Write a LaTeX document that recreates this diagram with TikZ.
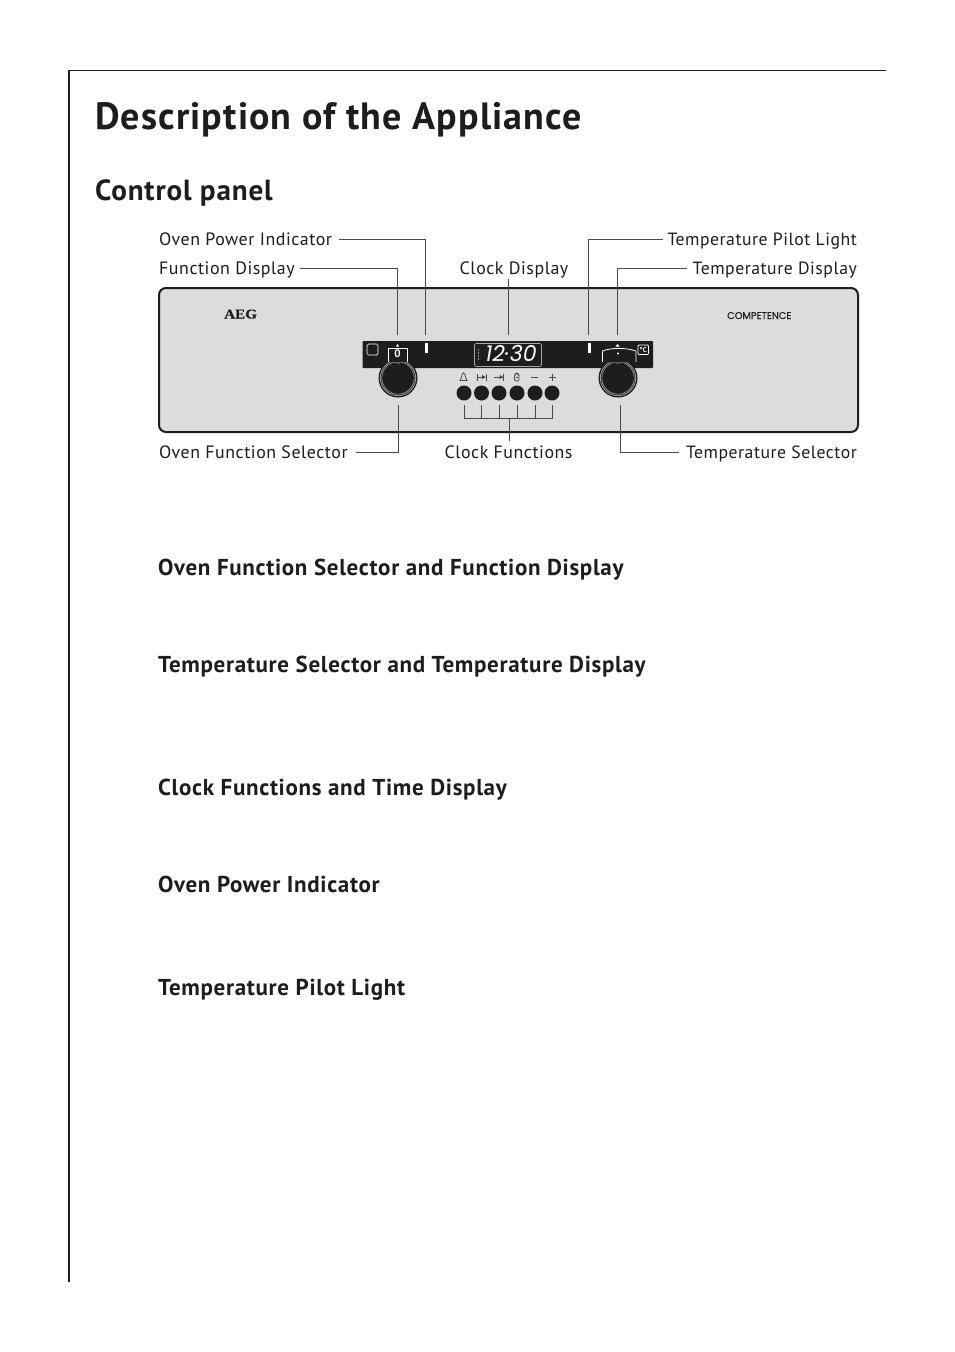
\documentclass[tikz,border=0pt]{standalone}
\usepackage{fontspec}
\setmainfont{PT Sans}[LetterSpace=3]
\newfontfamily\logofont{Liberation Serif}[FakeStretch=1.12,FakeBold=0.5]
\newfontfamily\compfont{Poppins}[FakeBold=0.4]
\newfontfamily\digitfont{Poppins}
\definecolor{panelgrey}{HTML}{DCDCDC}
\definecolor{inkblack}{HTML}{1E1C1C}
\definecolor{linegrey}{HTML}{4A4A4A}
\definecolor{ringgrey}{HTML}{A8A8A8}
\tikzset{
 x=1pt,y=-1pt,
 titletext/.style={anchor=base west,inner sep=0,font=\bfseries\fontsize{38}{38}\selectfont,text=inkblack},
 sectiontext/.style={anchor=base west,inner sep=0,font=\bfseries\fontsize{29.1}{29.1}\selectfont,text=inkblack},
 headtext/.style={anchor=base west,inner sep=0,font=\bfseries\fontsize{23}{23}\selectfont,text=inkblack},
 calloutl/.style={anchor=base west,inner sep=0,font=\fontsize{17.9}{17.9}\selectfont,text=inkblack},
 calloutr/.style={anchor=base east,inner sep=0,font=\fontsize{17.7}{17.7}\selectfont,text=inkblack},
 calloutc/.style={anchor=base,inner sep=0,font=\fontsize{17.9}{17.9}\selectfont,text=inkblack},
 leader/.style={draw=linegrey,line width=0.9pt},
 button/.style={circle,fill=inkblack,minimum size=15pt,inner sep=0},
 knob/.style={circle,fill=inkblack,minimum size=39pt,inner sep=0},
 iconline/.style={draw=linegrey,line width=0.8pt},
 panelwhite/.style={draw=white,line width=0.8pt},
}
\begin{document}
\begin{tikzpicture}
\useasboundingbox (0,0) rectangle (954,1352);
\fill[white] (0,0) rectangle (954,1352);
% page rules
\coordinate (ruleTop) at (69,70);
\coordinate (ruleRight) at (886,70);
\coordinate (ruleBottom) at (69,1282);
\draw[inkblack,line width=1pt] (ruleTop) -- (ruleRight);
\draw[inkblack,line width=2pt] (ruleTop) -- (ruleBottom);
% headings
\node[titletext] (title) at (95,129) {Description of the Appliance};
\node[sectiontext] (section) at (95,200.5) {Control panel};
\node[headtext] (h1) at (158,575) {Oven Function Selector and Function Display};
\node[headtext] (h2) at (158,672) {Temperature Selector and Temperature Display};
\node[headtext] (h3) at (158,795) {Clock Functions and Time Display};
\node[headtext] (h4) at (158,892) {Oven Power Indicator};
\node[headtext] (h5) at (158,995) {Temperature Pilot Light};
% panel
\draw[fill=panelgrey,draw=inkblack,line width=2pt,rounded corners=7pt] (159,288) rectangle (858,432);
\node[anchor=base west,inner sep=0,font=\logofont\bfseries\fontsize{13.5}{13.5}\selectfont,text=inkblack] (aeg) at (224,318.5) {AEG};
\node[anchor=base west,inner sep=0,font=\compfont\fontsize{9.8}{9.8}\selectfont,text=inkblack] (comp) at (727,319) {COMPETENCE};
% strip
\fill[inkblack,rounded corners=1pt] (362.5,341) rectangle (653,368);
\draw[white,line width=0.7pt,rounded corners=1.5pt] (367,344) rectangle (378,355);
% knobs
\node[knob] (knobL) at (398,378) {};
\node[knob] (knobR) at (618,378) {};
\foreach \k in {knobL,knobR}{
 \draw[ringgrey,line width=0.7pt] (\k) circle (17.7pt);
 \draw[ringgrey,line width=0.6pt] (\k) circle (16.2pt);
 \draw[ringgrey,line width=0.5pt] ([yshift=12.5pt]\k) -- ++(-1.8,-2.5) -- ++(3.6,0) -- cycle;
}
% left window
\draw[panelwhite,fill=inkblack] (388.5,362) -- (388.5,348) -- (407.5,348) -- (407.5,362);
\node[inner sep=0,text=white,font=\bfseries\fontsize{11}{11}\selectfont] (zero) at (397.5,353.7) {0};
\fill[white] (396,346.5) -- (399,346.5) -- (397.5,344) -- cycle;
% right window
\draw[panelwhite,fill=inkblack] (602.5,362) -- (602.5,351) .. controls (612,347.5) and (625,347.5) .. (636,351) -- (636,362);
\fill[white] (617.5,344) -- (619.5,346.5) -- (615.5,346.5) -- cycle;
\fill[white] (618,353.5) circle (1.1pt);
% degree box
\draw[white,fill=inkblack,line width=0.8pt,rounded corners=1pt] (638,345) rectangle (648.5,354.5);
\node[inner sep=0,text=white,font=\bfseries\fontsize{7}{7}\selectfont] (degc) at (643.3,349.8) {°C};
% indicators
\fill[white] (425,343) rectangle (428,353);
\fill[white] (588,343) rectangle (591,353);
% clock display
\draw[draw=ringgrey,line width=0.6pt,rounded corners=1.5pt] (474.5,343.5) rectangle (541.5,366.5);
\node[inner sep=0,text=white] (clockdigits) at (511,353.8) {\digitfont\itshape\fontsize{22}{22}\selectfont 12·30};
\fill[white] (478.5,350) circle (0.7pt) (478.5,353) circle (0.7pt) (478.5,356) circle (0.7pt) (478.5,359) circle (0.7pt);
% buttons
\foreach \n/\cx in {b1/464,b2/481.5,b3/499,b4/517,b5/535,b6/552}{
 \node[button] (\n) at (\cx,393) {};
 \coordinate (\n d) at (\cx,405);
 \coordinate (\n j) at (\cx,418.5);
}
% icons
\draw[iconline,fill=panelgrey] (460,380.5) .. controls (461.5,379.5) and (461.5,373) .. (463.5,373) .. controls (465.5,373) and (465.5,379.5) .. (467,380.5) -- cycle;
\draw[iconline] (477,373.5) -- (477,380.5) (486,373.5) -- (486,380.5) (477,377) -- (485,377);
\fill[linegrey] (485.5,377) -- (482,374.8) -- (482,379.2) -- cycle;
\draw[iconline] (494,377) -- (503,377) (503.5,373.5) -- (503.5,380.5);
\fill[linegrey] (503,377) -- (499.5,374.8) -- (499.5,379.2) -- cycle;
\draw[iconline,rounded corners=1.3pt] (514.5,381) -- (514.5,375.5) -- (516,373.5) -- (517.5,373.5) -- (519,375.5) -- (519,381) -- cycle;
\draw[iconline] (515.5,377.5) -- (518,377.5);
\draw[iconline] (531,377) -- (538,377);
\draw[iconline] (548.5,377) -- (555.5,377) (552,373.5) -- (552,380.5);
% callouts
\node[calloutl] (opi) at (159,245) {Oven Power Indicator};
\node[calloutl] (fd) at (159,274) {Function Display};
\node[calloutc] (cd) at (514,274) {Clock Display};
\node[calloutr] (tpl) at (857,245) {Temperature Pilot Light};
\node[calloutr] (td) at (857,274) {Temperature Display};
\node[calloutl] (ofs) at (159,458) {Oven Function Selector};
\node[calloutc] (cf) at (508.5,458) {Clock Functions};
\node[calloutr] (ts) at (857,458) {Temperature Selector};
% leaders
\coordinate (opiS) at (339,239);
\coordinate (opiE) at (425.5,335);
\coordinate (fdS) at (300,268);
\coordinate (fdE) at (397,335);
\coordinate (cdS) at (508,279);
\coordinate (cdE) at (508,335);
\coordinate (tplS) at (663,239);
\coordinate (tplE) at (588,335);
\coordinate (tdS) at (687,268);
\coordinate (tdE) at (617,335);
\coordinate (ofsS) at (356,452);
\coordinate (ofsE) at (398,405);
\coordinate (tsS) at (679,452);
\coordinate (tsE) at (620.5,405);
\coordinate (cfS) at (509,441);
\coordinate (cfE) at (509,418.5);
\draw[leader] (opiS) -| (opiE);
\draw[leader] (fdS) -| (fdE);
\draw[leader] (cdS) -- (cdE);
\draw[leader] (tplS) -| (tplE);
\draw[leader] (tdS) -| (tdE);
\draw[leader] (ofsS) -| (ofsE);
\draw[leader] (tsS) -| (tsE);
\draw[leader] (cfS) -- (cfE);
\draw[leader] (b1d) -- (b1j) -- (b6j) -- (b6d);
\foreach \n in {b2,b3,b4,b5}{\draw[leader] (\n d) -- (\n j);}
\end{tikzpicture}
\end{document}
